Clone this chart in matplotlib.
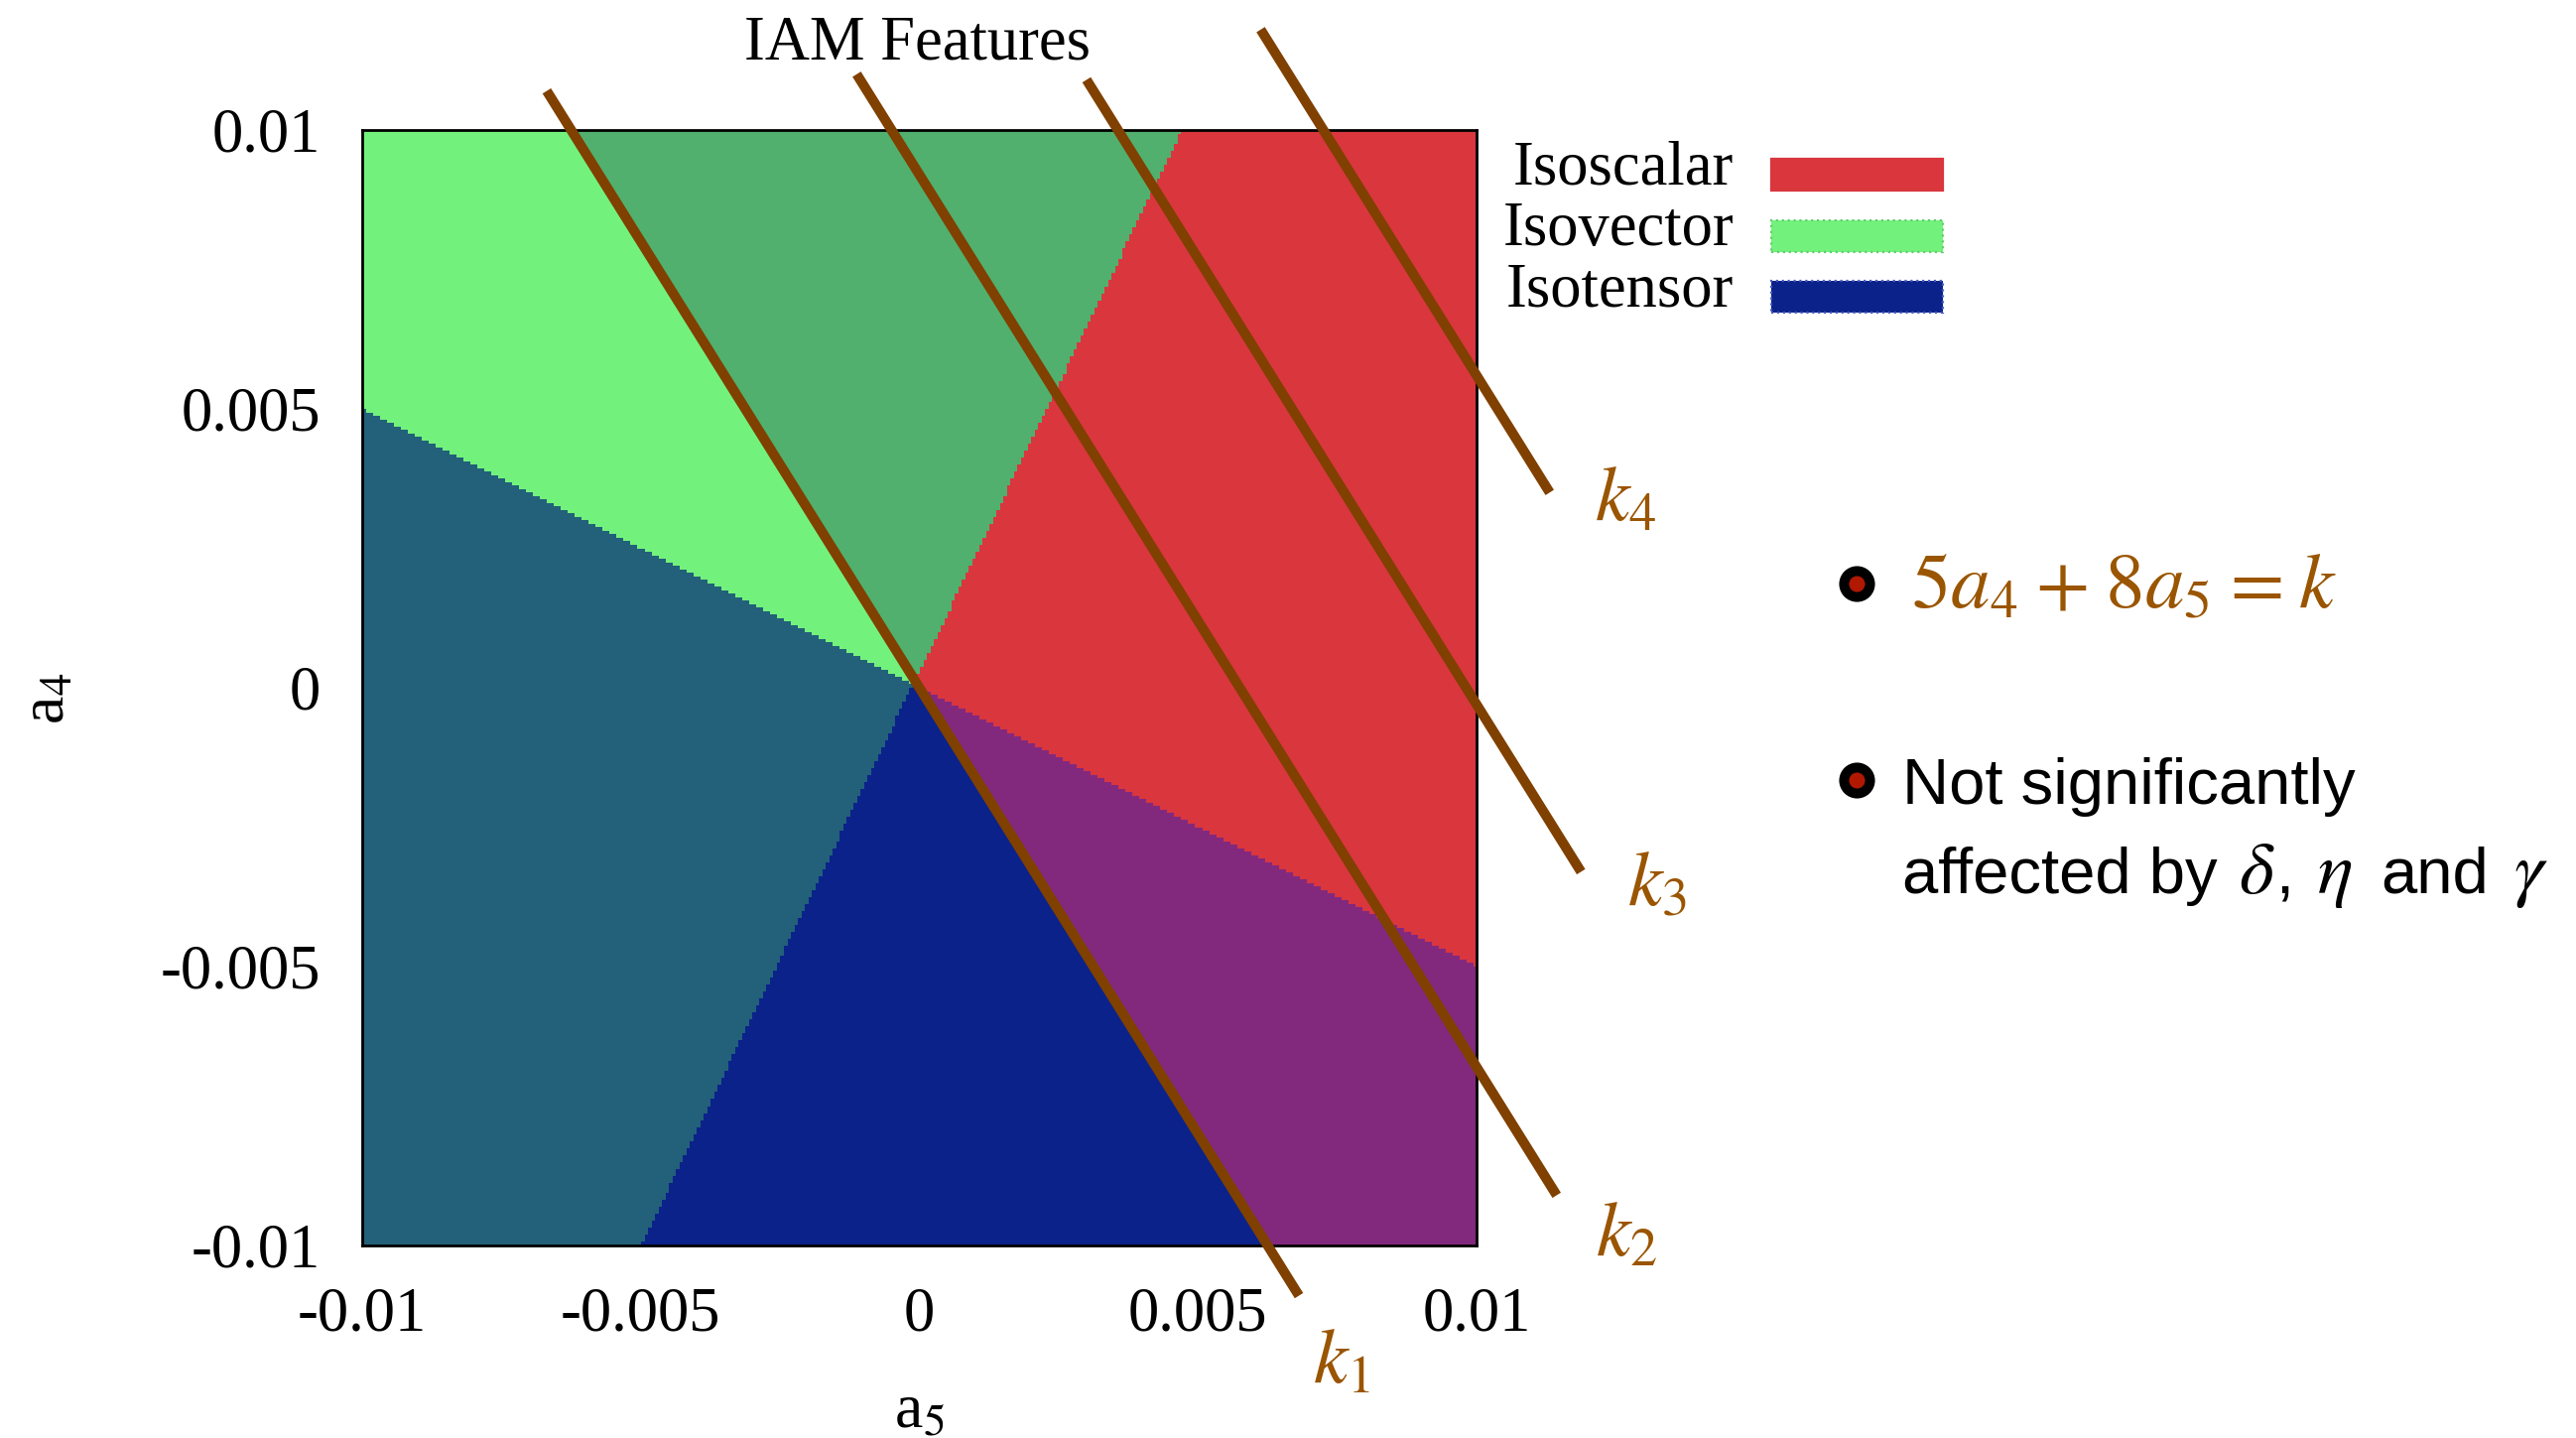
import numpy as np
import matplotlib
matplotlib.use("Agg")
import matplotlib.pyplot as plt
from matplotlib.colors import to_rgb
from matplotlib.lines import Line2D
from matplotlib.patches import Rectangle

plt.rcParams['font.family'] = ['Liberation Serif', 'DejaVu Serif']
plt.rcParams['mathtext.fontset'] = 'stix'

# both couplings share the same range
a_min, a_max = -0.01, 0.01
ticks = [-0.01, -0.005, 0, 0.005, 0.01]
tick_labels = ['-0.01', '-0.005', '0', '0.005', '0.01']

# each channel is present on the left side of its boundary (a5, a4) -> (a5, a4)
scalar_edge = [(-0.00625, 0.01), (0.00625, -0.01)]
vector_edge = [(-0.005, -0.01), (0.0047, 0.01)]
tensor_edge = [(0.01, -0.005), (-0.01, 0.005)]

channel_names = ['Isoscalar', 'Isovector', 'Isotensor']
channel_colors = ['#d9363e', '#72f27c', '#0b228a']

# colour of each overlap, keyed by (scalar, vector, tensor)
overlap_colors = {
    (1, 0, 0): '#d9363e',
    (1, 1, 0): '#51b06e',
    (0, 1, 0): '#72f27c',
    (0, 1, 1): '#236079',
    (0, 0, 1): '#0b228a',
    (1, 0, 1): '#82297e',
}

# lines of constant 5*a4 + 8*a5 = k
coef_a4, coef_a5 = 5, 8
k_values = [0.0, 0.046, 0.0785, 0.108]
k_names = ['$k_1$', '$k_2$', '$k_3$', '$k_4$']
k_a4_top = [0.0107, 0.0110, 0.0109, 0.0118]
k_a4_bottom = [-0.0109, -0.0091, -0.0033, 0.0035]
k_label_pos = [(0.00706, -0.01244), (0.01214, -0.01018),
               (0.01271, -0.00390), (0.01212, 0.00299)]

line_brown = '#804000'
text_brown = '#9a5500'

fig = plt.figure(figsize=(12.98, 7.245), dpi=200)
ax = fig.add_axes([0.1406, 0.1339, 0.4326, 0.7757])

# region map on a grid
n = 320
g5 = np.linspace(a_min, a_max, n)
g4 = np.linspace(a_min, a_max, n)
A5, A4 = np.meshgrid(g5, g4)


def left_of(edge):
    (x1, y1), (x2, y2) = edge
    return (x2 - x1) * (A4 - y1) - (y2 - y1) * (A5 - x1) > 0


masks = [left_of(e) for e in (scalar_edge, vector_edge, tensor_edge)]
img = np.ones((n, n, 3))
for key, col in overlap_colors.items():
    sel = np.ones((n, n), bool)
    for m, flag in zip(masks, key):
        sel &= m if flag else ~m
    img[sel] = to_rgb(col)

ax.imshow(img, origin='lower', extent=(a_min, a_max, a_min, a_max),
          interpolation='nearest', aspect='auto')

# constant-k lines, running past the frame
for k, top, bot, name, pos in zip(k_values, k_a4_top, k_a4_bottom, k_names, k_label_pos):
    a4_line = np.array([top, bot])
    a5_line = (k - coef_a4 * a4_line) / coef_a5
    ax.plot(a5_line, a4_line, color=line_brown, lw=3.6, clip_on=False,
            solid_capstyle='butt', zorder=5)
    ax.text(pos[0], pos[1], name, color=text_brown, fontsize=28,
            ha='left', va='baseline', clip_on=False)

ax.set_xlim(a_min, a_max)
ax.set_ylim(a_min, a_max)
ax.set_xticks(ticks)
ax.set_xticklabels(tick_labels)
ax.set_yticks(ticks)
ax.set_yticklabels(tick_labels)
ax.tick_params(length=0, pad=15, labelsize=22.5)
for sp in ax.spines.values():
    sp.set_linewidth(1.0)
    sp.set_color('black')
    sp.set_zorder(4)

ax.set_xlabel('a$_5$', fontsize=23)
ax.xaxis.set_label_coords(0.5, -0.124)
ax.set_ylabel('a$_4$', fontsize=23)
ax.yaxis.set_label_coords(-0.255, 0.49)

fig.text(0.3561, 0.9586, 'IAM Features', fontsize=22.5, ha='center', va='baseline')

# key: names right-aligned, colour swatches to the right
key_base = [0.8723, 0.8295, 0.7874]
key_edges = ['#d9363e', '#5fd06a', '#4a5cc0']
key_styles = ['-', ':', ':']
for name, col, y, ec, ls in zip(channel_names, channel_colors, key_base, key_edges, key_styles):
    fig.text(0.6730, y, name, fontsize=22.5, ha='right', va='baseline')
    fig.add_artist(Rectangle((0.6876, y - 0.0045), 0.0666, 0.0221, facecolor=col,
                             edgecolor=ec, linestyle=ls, lw=0.8,
                             transform=fig.transFigure))

# notes on the right
for y in (0.5942, 0.4576):
    fig.add_artist(Line2D([0.7207], [y], marker='o', ms=9.4, mew=3.6,
                          mfc='#b01800', mec='black', transform=fig.transFigure))

fig.text(0.7419, 0.5776,
         r'$5a_4\hspace{0.07}+\hspace{0.07}8a_5\hspace{0.07}=\hspace{0.07}k$',
         color=text_brown, fontsize=28.5, ha='left', va='baseline')

sans = ['Liberation Sans', 'DejaVu Sans']
fig.text(0.7384, 0.4410, 'Not significantly', family=sans, fontsize=23.5,
         ha='left', va='baseline')
line2_y = 0.3789
fig.text(0.7384, line2_y, 'affected by', family=sans, fontsize=23.5,
         ha='left', va='baseline')
fig.text(0.8833, line2_y, ',', family=sans, fontsize=23.5, ha='left', va='baseline')
fig.text(0.9241, line2_y, 'and', family=sans, fontsize=23.5, ha='left', va='baseline')
for x, sym in zip((0.8690, 0.8995, 0.9757), (r'$\delta$', r'$\eta$', r'$\gamma$')):
    fig.text(x, line2_y, sym, fontsize=27, ha='left', va='baseline')

fig.savefig('out.png', dpi=200)
